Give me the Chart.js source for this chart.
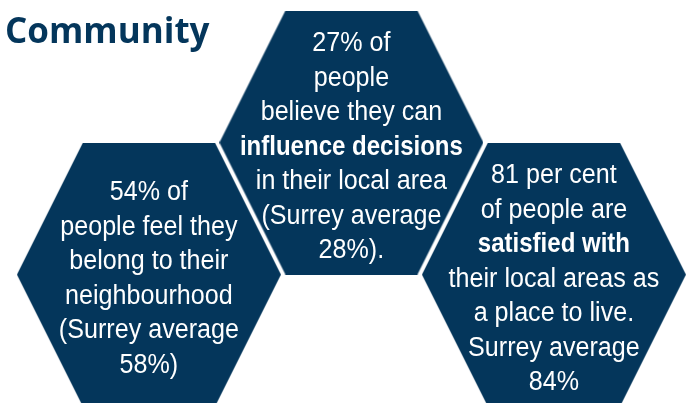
<!DOCTYPE html>
<html>
<head>
<meta charset="utf-8">
<script src="https://cdn.jsdelivr.net/npm/chart.js@4.4.1/dist/chart.umd.min.js"></script>
<style>
  html, body { margin: 0; padding: 0; background: #ffffff; }
  #wrap { width: 693px; height: 403px; position: relative; }
</style>
</head>
<body>
<div id="wrap"><canvas id="hexChart"></canvas></div>
<script>
// Dados
const categories = ['Belonging', 'Influence decisions', 'Satisfied with local area'];
const localValues = [54, 27, 81];
const surreyValues = [58, 28, 84];

const NAVY = '#04365b';
const HEX_R = 132;

// Linhas de texto de cada hexágono ([texto, negrito])
function hexLines(i) {
    const v = localValues[i], s = surreyValues[i];
    if (i === 0) return [
        [`${v}% of`, false], ['people feel they', false], ['belong to their', false],
        ['neighbourhood', false], ['(Surrey average', false], [`${s}%)`, false]
    ];
    if (i === 1) return [
        [`${v}% of`, false], ['people', false], ['believe they can', false],
        ['influence decisions', true], ['in their local area', false],
        ['(Surrey average', false], [`${s}%).`, false]
    ];
    return [
        [`${v} per cent`, false], ['of people are', false], ['satisfied with', true],
        ['their local areas as', false], ['a place to live.', false],
        ['Surrey average', false], [`${s}%`, false]
    ];
}

// Hexágono como pointStyle
function makeHexagon() {
    const c = document.createElement('canvas');
    c.width = HEX_R * 2;
    c.height = HEX_R * 2;
    const g = c.getContext('2d');
    const r = HEX_R, h = HEX_R / 2;
    g.beginPath();
    g.moveTo(r - h, 0);
    g.lineTo(r + h, 0);
    g.lineTo(2 * r, r);
    g.lineTo(r + h, 2 * r);
    g.lineTo(r - h, 2 * r);
    g.lineTo(0, r);
    g.closePath();
    g.fillStyle = NAVY;
    g.fill();
    return c;
}
const hexImg = makeHexagon();

const hexText = {
    id: 'hexText',
    afterDatasetsDraw(chart) {
        const ctx = chart.ctx;
        const meta = chart.getDatasetMeta(0);
        ctx.save();
        // Título
        ctx.fillStyle = NAVY;
        ctx.font = "bold 35px 'Open Sans', sans-serif";
        ctx.textAlign = 'left';
        ctx.textBaseline = 'alphabetic';
        ctx.fillText('Community', 5, 43);

        // Texto estreito
        ctx.fillStyle = '#ffffff';
        ctx.textAlign = 'center';
        meta.data.forEach((pt, i) => {
            const lines = hexLines(i);
            const lh = 34.5;
            lines.forEach(([txt, bold], k) => {
                ctx.font = (bold ? 'bold ' : '') + "27px 'Liberation Sans', Arial, sans-serif";
                const y = pt.y + (k - (lines.length - 1) / 2) * lh + 12;
                ctx.save();
                ctx.translate(pt.x, y);
                ctx.scale(bold ? 0.89 : 0.93, 1);
                ctx.fillText(txt, 0, 0);
                ctx.restore();
            });
        });
        ctx.restore();
    }
};

new Chart(document.getElementById('hexChart'), {
    type: 'scatter',
    data: {
        labels: categories,
        datasets: [{
            data: localValues.map((v, i) => ({ x: i, y: i % 2 === 1 ? 0.65 : 0.314, v })),
            pointStyle: hexImg,
            clip: false
        }]
    },
    options: {
        responsive: true,
        maintainAspectRatio: false,
        animation: false,
        events: [],
        layout: { padding: 0 },
        plugins: {
            legend: { display: false },
            tooltip: { enabled: false }
        },
        scales: {
            x: { type: 'linear', display: false, min: -0.7105, max: 2.662 },
            y: { type: 'linear', display: false, min: 0, max: 1 }
        }
    },
    plugins: [hexText]
});
</script>
</body>
</html>
